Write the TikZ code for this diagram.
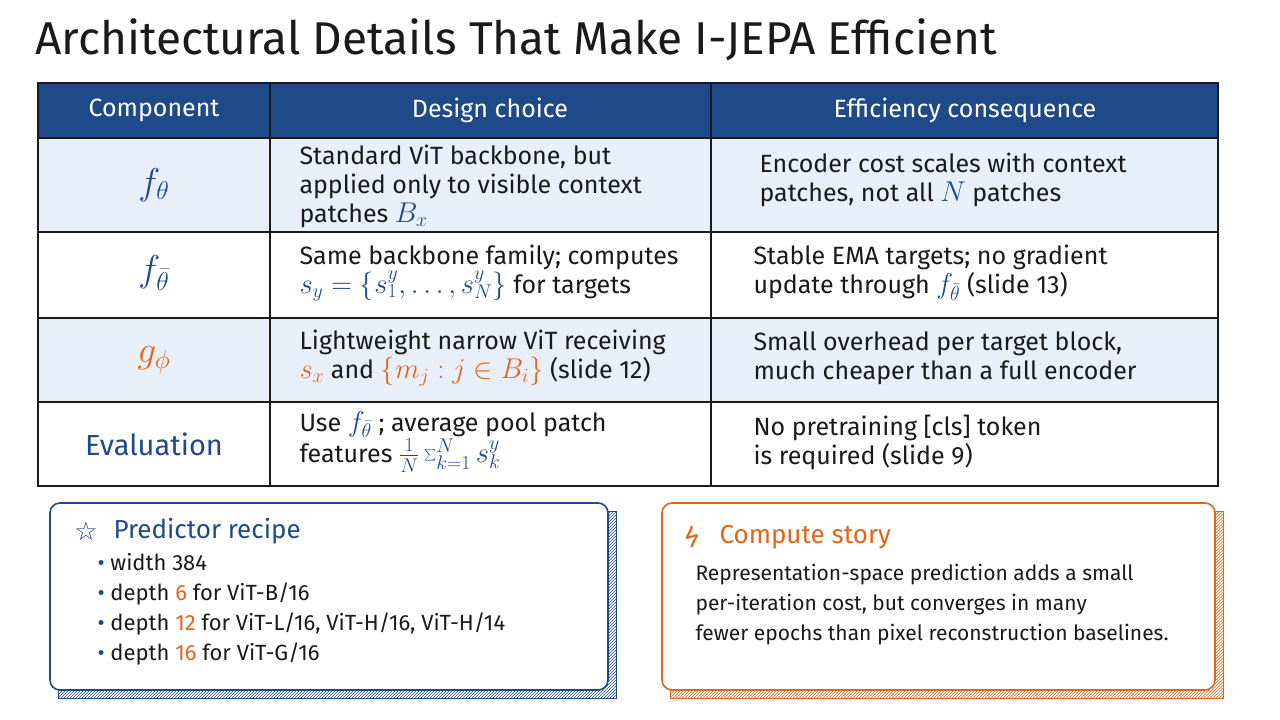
\documentclass[tikz,border=0pt]{standalone}
\usepackage{graphicx}
\usepackage{fontspec}
\setmainfont{Fira Sans}
\newfontfamily\symfont{DejaVu Sans}
\usetikzlibrary{patterns}
\definecolor{navy}{HTML}{1F4A8A}
\definecolor{lblue}{HTML}{E9EFF8}
\definecolor{org}{HTML}{E0661C}
\definecolor{ink}{HTML}{1A1A1A}
\newcommand{\mym}[1]{\scalebox{1.15}{$#1$}}
\newcommand{\mybig}[1]{\scalebox{1.5}{$#1$}}
\begin{document}
\begin{tikzpicture}[x=1pt,y=-1pt,
  cell/.style={anchor=west,align=left,font=\fontsize{25}{29}\selectfont,text=ink},
  hdr/.style={font=\fontsize{25}{28}\selectfont,text=white},
  comp/.style={font=\fontsize{25}{28}\selectfont}]
\useasboundingbox (0,0) rectangle (1280,720);
\fill[white] (0,0) rectangle (1280,720);
\node[anchor=west,font=\fontsize{46}{52}\selectfont,text=ink] (title) at (32,40) {Architectural Details That Make I-JEPA Efficient};
% table
\fill[navy] (38,83) rectangle (1218,138);
\fill[lblue] (38,138) rectangle (1218,232);
\fill[lblue] (38,318) rectangle (1218,402);
\draw[ink,line width=1.6pt] (38,83) rectangle (1218,486);
\foreach \y in {138,232,318,402} \draw[ink,line width=1.4pt] (38,\y) -- (1218,\y);
\foreach \x in {270,711} \draw[ink,line width=1.4pt] (\x,83) -- (\x,486);
\node[hdr] (h1) at (154,110) {Component};
\node[hdr] (h2) at (490,110) {Design choice};
\node[hdr] (h3) at (965,110) {Efficiency consequence};
\node[comp,text=navy] (c1) at (154,185) {\mybig{f_{\theta}}};
\node[comp,text=navy] (c2) at (154,273) {\mybig{f_{\bar\theta}}};
\node[comp,text=org] (c3) at (154,360) {\mybig{g_{\phi}}};
\node[comp,text=navy,font=\fontsize{29}{32}\selectfont] (c4) at (154,444) {Evaluation};
\node[cell] (d1) at (296,186) {Standard ViT backbone, but\\applied only to visible context\\patches \textcolor{navy}{\mym{B_x}}};
\node[cell] (d2) at (296,273) {Same backbone family; computes\\\textcolor{navy}{\mym{s_y=\{s^y_1,\ldots,s^y_N\}}} for targets};
\node[cell] (d3) at (296,358) {Lightweight narrow ViT receiving\\\textcolor{org}{\mym{s_x}} and \textcolor{org}{\mym{\{m_j : j\in B_i\}}} (slide 12)};
\node[cell] (d4) at (296,442) {Use \textcolor{navy}{\mym{f_{\bar\theta}}} ; average pool patch\\features \textcolor{navy}{\mym{\frac{1}{N}\sum_{k=1}^{N}s^y_k}}};
\node[cell] (e1) at (756,180) {Encoder cost scales with context\\patches, not all \textcolor{navy}{\mym{N}} patches};
\node[cell] (e2) at (750,273) {Stable EMA targets; no gradient\\update through \textcolor{navy}{\mym{f_{\bar\theta}}} (slide 13)};
\node[cell] (e3) at (750,358) {Small overhead per target block,\\much cheaper than a full encoder};
\node[cell] (e4) at (750,442) {No pretraining [cls] token\\is required (slide 9)};
% left box
\fill[pattern=north east lines,pattern color=navy] (58,511) rectangle (616,698);
\draw[navy,line width=1pt] (58,511) rectangle (616,698);
\fill[white,draw=navy,line width=1.6pt,rounded corners=10pt] (50,503) rectangle (608,690);
\node[font=\symfont\fontsize{26}{30}\selectfont,text=navy] (star) at (86,531) {☆};
\node[anchor=west,font=\fontsize{26}{30}\selectfont,text=navy] (lt) at (110,531) {Predictor recipe};
\node[anchor=north west,align=left,font=\fontsize{22}{30}\selectfont,text=ink] (ll) at (94,550) {%
\textcolor{navy}{•}\ width 384\\
\textcolor{navy}{•}\ depth \textcolor{org}{6} for ViT-B/16\\
\textcolor{navy}{•}\ depth \textcolor{org}{12} for ViT-L/16, ViT-H/16, ViT-H/14\\
\textcolor{navy}{•}\ depth \textcolor{org}{16} for ViT-G/16};
% right box
\fill[pattern=north east lines,pattern color=org] (670,511) rectangle (1223,698);
\draw[org,line width=1pt] (670,511) rectangle (1223,698);
\fill[white,draw=org,line width=1.6pt,rounded corners=10pt] (662,503) rectangle (1215,690);
\node[font=\fontsize{28}{30}\selectfont,text=org] (bolt) at (692,537) {ϟ};
\node[anchor=west,font=\fontsize{26}{30}\selectfont,text=org] (rt) at (716,537) {Compute story};
\node[anchor=north west,align=left,font=\fontsize{21}{30}\selectfont,text=ink] (rl) at (692,561) {Representation-space prediction adds a small\\per-iteration cost, but converges in many\\fewer epochs than pixel reconstruction baselines.};
\end{tikzpicture}
\end{document}
